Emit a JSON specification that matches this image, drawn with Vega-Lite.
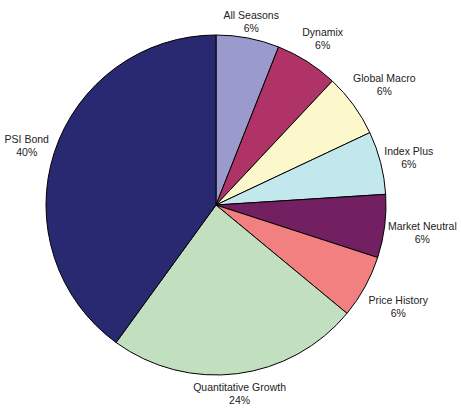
{
  "$schema": "https://vega.github.io/schema/vega-lite/v6.json",
  "width": 432,
  "height": 410,
  "autosize": "none",
  "padding": {"left": 0, "top": 0, "right": 29, "bottom": 0},
  "background": "white",
  "data": {
    "values": [
      {"i": 1, "name": "All Seasons", "pct": 6},
      {"i": 2, "name": "Dynamix", "pct": 6},
      {"i": 3, "name": "Global Macro", "pct": 6},
      {"i": 4, "name": "Index Plus", "pct": 6},
      {"i": 5, "name": "Market Neutral", "pct": 6},
      {"i": 6, "name": "Price History", "pct": 6},
      {"i": 7, "name": "Quantitative Growth", "pct": 24},
      {"i": 8, "name": "PSI Bond", "pct": 40}
    ]
  },
  "transform": [
    {"stack": "pct", "groupby": [], "sort": [{"field": "i", "order": "ascending"}], "as": ["s0", "s1"]},
    {"calculate": "(datum.s0 + datum.s1) / 2", "as": "mid"},
    {"calculate": "datum.name + '\\n' + datum.pct + '%'", "as": "label"}
  ],
  "layer": [
    {
      "mark": {"type": "arc", "outerRadius": 170, "stroke": "#000000", "strokeWidth": 1},
      "encoding": {
        "theta": {"field": "s0", "type": "quantitative", "scale": {"domain": [0, 100]}},
        "theta2": {"field": "s1"},
        "color": {
          "field": "name",
          "type": "nominal",
          "legend": null,
          "scale": {
            "domain": ["All Seasons", "Dynamix", "Global Macro", "Index Plus", "Market Neutral", "Price History", "Quantitative Growth", "PSI Bond"],
            "range": ["#9A9ACD", "#AF3366", "#FCF8CC", "#C2E8EE", "#722062", "#F28080", "#C2E0C0", "#292972"]
          }
        }
      }
    },
    {
      "transform": [{"filter": "datum.i == 1 || datum.i == 7"}],
      "mark": {"type": "text", "radius": 188, "dy": -4, "font": "Liberation Sans", "fontSize": 10.5, "lineBreak": "\n", "lineHeight": 13, "color": "#222222", "align": "center", "baseline": "middle"},
      "encoding": {
        "theta": {"field": "mid", "type": "quantitative", "scale": {"domain": [0, 100]}},
        "text": {"field": "label", "type": "nominal"}
      }
    },
    {
      "transform": [{"filter": "datum.i == 2 || datum.i == 4 || datum.i == 8"}],
      "mark": {"type": "text", "radius": 199, "dy": -4, "font": "Liberation Sans", "fontSize": 10.5, "lineBreak": "\n", "lineHeight": 13, "color": "#222222", "align": "center", "baseline": "middle"},
      "encoding": {
        "theta": {"field": "mid", "type": "quantitative", "scale": {"domain": [0, 100]}},
        "text": {"field": "label", "type": "nominal"}
      }
    },
    {
      "transform": [{"filter": "datum.i == 3 || datum.i == 5 || datum.i == 6"}],
      "mark": {"type": "text", "radius": 208, "dy": -4, "font": "Liberation Sans", "fontSize": 10.5, "lineBreak": "\n", "lineHeight": 13, "color": "#222222", "align": "center", "baseline": "middle"},
      "encoding": {
        "theta": {"field": "mid", "type": "quantitative", "scale": {"domain": [0, 100]}},
        "text": {"field": "label", "type": "nominal"}
      }
    }
  ]
}
